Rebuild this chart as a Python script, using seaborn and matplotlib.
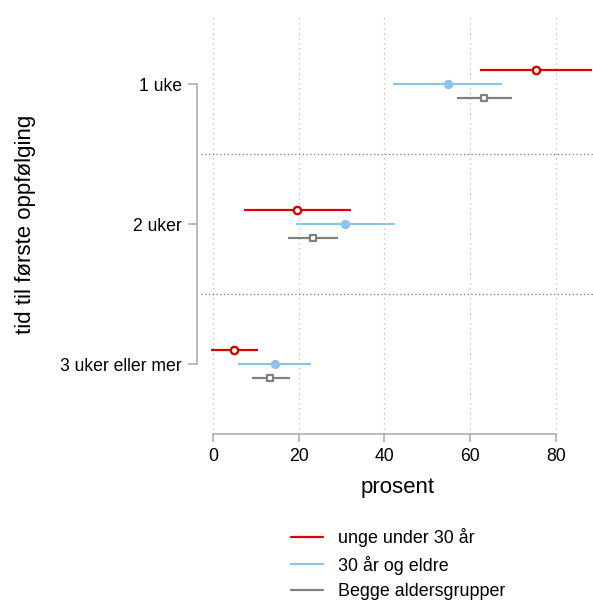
import numpy as np
import pandas as pd
import matplotlib
matplotlib.use("Agg")
import matplotlib.pyplot as plt
import seaborn as sns
from matplotlib.lines import Line2D

# ---- data ----
categories = ["1 uke", "2 uker", "3 uker eller mer"]
groups = ["unge under 30 år", "30 år og eldre", "Begge aldersgrupper"]

est_young = [75.3, 19.7, 5.0]
lo_young = [62.2, 7.3, -0.4]
hi_young = [88.5, 32.2, 10.5]

est_old = [54.8, 30.9, 14.4]
lo_old = [42.1, 19.4, 5.9]
hi_old = [67.5, 42.5, 22.9]

est_all = [63.2, 23.3, 13.4]
lo_all = [56.8, 17.5, 9.2]
hi_all = [69.8, 29.2, 17.9]

x_ticks = [0, 20, 40, 60, 80]
x_label = "prosent"
y_label = "tid til første oppfølging"

# ---- long table ----
rows = []
for g, est, lo, hi in zip(groups,
                          [est_young, est_old, est_all],
                          [lo_young, lo_old, lo_all],
                          [hi_young, hi_old, hi_all]):
    for i, c in enumerate(categories):
        rows.append(dict(kategori=c, gruppe=g, est=est[i], lo=lo[i], hi=hi[i]))
df = pd.DataFrame(rows)

# ---- style ----
sns.set_theme(style="white")
plt.rcParams["font.family"] = ["Liberation Sans", "DejaVu Sans"]

colors = {groups[0]: "#dd0000", groups[1]: "#8cc3ea", groups[2]: "#808080"}
offsets = {groups[0]: -0.1, groups[1]: 0.0, groups[2]: 0.1}
cat_pos = {c: i for i, c in enumerate(categories)}
df["y"] = df["kategori"].map(cat_pos) + df["gruppe"].map(offsets)

W, H = 593, 601
fig = plt.figure(figsize=(W / 100, H / 100), dpi=100)
ax = fig.add_axes([201 / W, 1 - 434 / H, (595 - 201) / W, 420 / H])

# grid
for xt in x_ticks:
    ax.axvline(xt, color="#bbbbbb", lw=0.9, ls=(0, (1, 3)), zorder=0)
for yy in [0.5, 1.5]:
    ax.axhline(yy, color="#777777", lw=0.9, ls=(0, (1, 2)), zorder=0)

# CI lines
for g in groups:
    d = df[df["gruppe"] == g]
    ax.hlines(d["y"], d["lo"], d["hi"], color=colors[g], lw=1.6, zorder=2)

# point estimates
d = df[df["gruppe"] == groups[0]]
sns.scatterplot(data=d, x="est", y="y", ax=ax, marker="o", s=28,
                color="white", edgecolor=colors[groups[0]], linewidth=1.7,
                zorder=3, legend=False)
d = df[df["gruppe"] == groups[1]]
sns.scatterplot(data=d, x="est", y="y", ax=ax, marker="o", s=45,
                color=colors[groups[1]], edgecolor=colors[groups[1]], linewidth=0,
                zorder=3, legend=False)
d = df[df["gruppe"] == groups[2]]
sns.scatterplot(data=d, x="est", y="y", ax=ax, marker="s", s=22,
                color="white", edgecolor=colors[groups[2]], linewidth=1.6,
                zorder=3, legend=False)

ax.set_xlim(-2.8, 89.1)
ax.set_ylim(2.5, -0.5)

ax.set_xticks(x_ticks)
ax.set_xticklabels([str(t) for t in x_ticks])
ax.set_yticks(range(len(categories)))
ax.set_yticklabels(categories)

for s in ["top", "right"]:
    ax.spines[s].set_visible(False)
ax.spines["bottom"].set_bounds(0, 80)
ax.spines["left"].set_bounds(0, 2)
ax.spines["left"].set_position(("outward", 3))
for s in ["bottom", "left"]:
    ax.spines[s].set_color("#aaaaaa")
    ax.spines[s].set_linewidth(1.1)

ax.tick_params(axis="x", direction="out", length=6, width=1.1, color="#aaaaaa",
               labelsize=12.7, pad=4, bottom=True)
ax.tick_params(axis="y", direction="out", length=6.5, width=1.1, color="#aaaaaa",
               labelsize=12.7, pad=4.5, left=True)
for lab in ax.get_xticklabels() + ax.get_yticklabels():
    lab.set_color("black")

ax.set_xlabel(x_label, fontsize=16, color="black", labelpad=9)
ax.set_ylabel("")
fig.text(26 / W, 1 - 224 / H, y_label, rotation=90, fontsize=16,
         ha="center", va="center", color="black")

handles = [Line2D([0], [0], color=colors[g], lw=1.6) for g in groups]
leg = fig.legend(handles, groups, loc="upper left",
                 bbox_to_anchor=(291 / W, 1 - 528 / H),
                 frameon=False, fontsize=12.9, handlelength=1.8,
                 handletextpad=0.85, labelspacing=0.48,
                 borderpad=0, borderaxespad=0)
for t in leg.get_texts():
    t.set_color("black")

fig.savefig("out.png", dpi=100)
